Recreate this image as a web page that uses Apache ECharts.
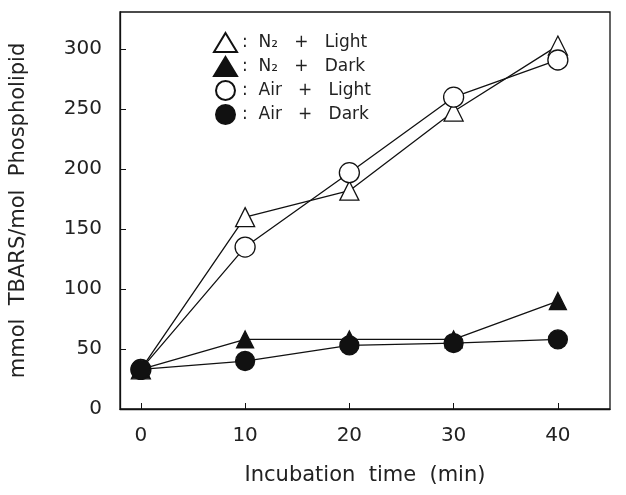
<!DOCTYPE html>
<html>
<head>
<meta charset="utf-8">
<script src="https://cdn.jsdelivr.net/npm/echarts@6/dist/echarts.min.js"></script>
<style>
  html, body { margin: 0; padding: 0; background: #fff; }
  #chart { width: 626px; height: 495px; }
</style>
</head>
<body>
<div id="chart"></div>
<script>
// incubation time (min)
var times = [0, 10, 20, 30, 40];
var xTicks = [0, 10, 20, 30, 40];
var yTicks = [0, 50, 100, 150, 200, 250, 300];

// nmol TBARS / mol phospholipid
var n2Light = [33, 160, 182, 248, 303];
var n2Dark = [33, 58, 58, 58, 90];
var airLight = [33, 135, 197, 260, 291];
var airDark = [33, 40, 53, 55, 58];

var font = 'DejaVu Sans';

function pairs(vals) {
  return times.map(function (t, i) { return [t, vals[i]]; });
}

function mkSeries(name, vals, symbol, filled, size) {
  return {
    name: name,
    type: 'line',
    data: pairs(vals),
    symbol: symbol,
    symbolSize: size,
    showAllSymbol: true,
    lineStyle: { color: '#111', width: 1.3 },
    itemStyle: {
      color: filled ? '#111' : '#fff',
      borderColor: '#111',
      borderWidth: 1.3
    },
    emphasis: { disabled: true },
    z: filled ? 3 : 2
  };
}

var chart = echarts.init(document.getElementById('chart'));
chart.setOption({
  animation: false,
  backgroundColor: '#fff',
  grid: {
    left: 120, right: 16, top: 12, bottom: 86,
    show: true, borderColor: '#111', borderWidth: 1.3
  },
  legend: {
    left: 208, top: 27,
    orient: 'vertical',
    itemGap: 3,
    itemWidth: 23, itemHeight: 19,
    textStyle: { fontFamily: font, fontSize: 17, color: '#222' },
    formatter: function (name) { return ':  ' + name; },
    data: [
      { name: 'N\u2082   +   Light', icon: 'triangle' },
      { name: 'N\u2082   +   Dark', icon: 'triangle' },
      { name: 'Air   +   Light', icon: 'circle' },
      { name: 'Air   +   Dark', icon: 'circle' }
    ]
  },
  xAxis: {
    type: 'value',
    min: -2, max: 45,
    name: 'Incubation  time  (min)',
    nameLocation: 'middle',
    nameGap: 56,
    nameTextStyle: { fontFamily: font, fontSize: 21, color: '#222' },
    axisLine: { show: true, onZero: false, lineStyle: { color: '#111', width: 1.3 } },
    axisTick: { show: true, inside: true, length: 6, customValues: xTicks, lineStyle: { color: '#111' } },
    axisLabel: { customValues: xTicks, margin: 17, fontFamily: font, fontSize: 20, color: '#222' },
    splitLine: { show: false }
  },
  yAxis: {
    type: 'value',
    min: 0, max: 331,
    name: 'mmol  TBARS/mol  Phospholipid',
    nameLocation: 'middle',
    nameGap: 91,
    nameRotate: 90,
    nameTextStyle: { fontFamily: font, fontSize: 21, color: '#222' },
    axisLine: { show: true, onZero: false, lineStyle: { color: '#111', width: 1.3 } },
    axisTick: { show: true, inside: true, length: 6, customValues: yTicks, lineStyle: { color: '#111' } },
    axisLabel: { customValues: yTicks, margin: 18, fontFamily: font, fontSize: 20, color: '#222' },
    splitLine: { show: false }
  },
  series: [
    mkSeries('N\u2082   +   Light', n2Light, 'triangle', false, 19),
    mkSeries('N\u2082   +   Dark', n2Dark, 'triangle', true, 17),
    mkSeries('Air   +   Light', airLight, 'circle', false, 20),
    mkSeries('Air   +   Dark', airDark, 'circle', true, 19)
  ]
});
</script>
</body>
</html>
